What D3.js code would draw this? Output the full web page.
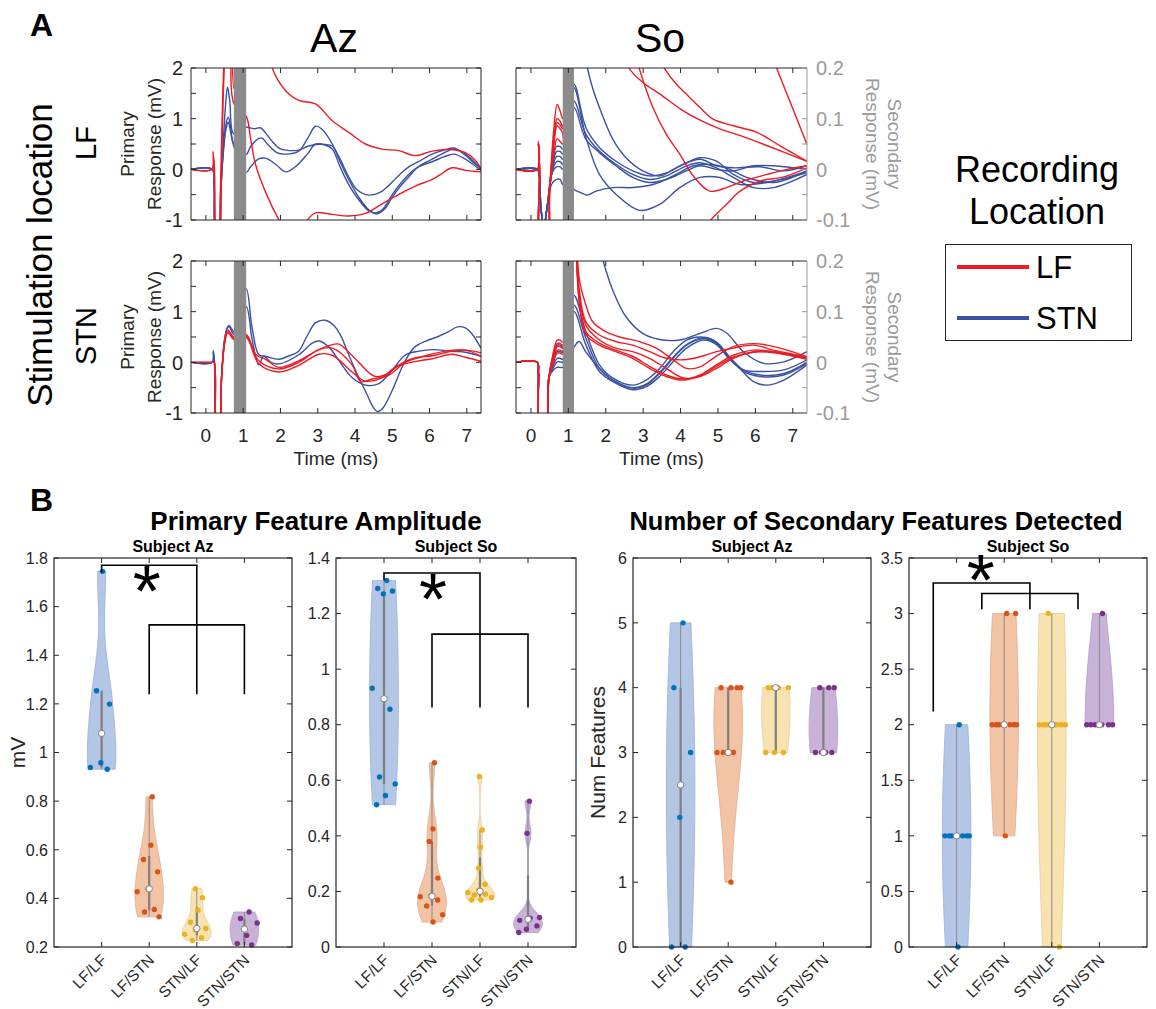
<!DOCTYPE html>
<html><head><meta charset="utf-8">
<script src="https://cdn.jsdelivr.net/npm/d3@7"></script>
<style>body{margin:0;background:#fff}svg{font-family:"Liberation Sans",Arial,Helvetica,sans-serif}</style>
</head><body>
<svg id="chart" width="1156" height="1009"></svg>
<script>
// ================= DATA =================
const timeDomain = [-0.4, 7.38];
const timeTicks = [0,1,2,3,4,5,6,7];
const primaryDomain = [-1, 2];
const primaryTicks = [-1,-0.5,0,0.5,1,1.5,2];
const primaryLabels = [-1,0,1,2];
const secondaryDomain = [-0.1, 0.2];
const secondaryTicks = [-0.1,-0.05,0,0.05,0.1,0.15,0.2];
const secondaryLabels = [-0.1,0,0.1,0.2];
const blankAz = [0.75, 1.08];
const blankSo = [0.85, 1.15];
const subjects = ["Az","So"];
const stimLocations = ["LF","STN"];
const legendLabels = ["LF","STN"];

// Az, stimulation LF (primary scale, mV)
const azLF_blue = [
 [[-0.4,0],[0.17,0],[0.22,-0.3],[0.27,-1.3],[0.34,-1.4],[0.4,-0.5],[0.47,0.6],[0.53,1.3],[0.58,1.62],[0.64,1.35],[0.75,0.7],
  [1.08,0.83],[1.3,0.8],[1.46,0.82],[1.6,0.72],[1.78,0.55],[1.96,0.42],[2.14,0.38],[2.49,0.38],[2.72,0.45],[2.94,0.49],[3.2,0.49],[3.39,0.46],[3.6,0.2],[3.83,-0.15],[4.05,-0.4],[4.28,-0.5],[4.5,-0.5],[4.73,-0.43],[5.0,-0.25],[5.2,-0.1],[5.44,0.05],[5.7,0.15],[6.07,0.3],[6.4,0.38],[6.65,0.42],[6.96,0.28],[7.2,0.12],[7.38,0.02]],
 [[-0.4,0],[0.17,0],[0.22,-0.3],[0.27,-1.3],[0.34,-1.3],[0.4,-0.4],[0.47,0.4],[0.54,0.9],[0.6,1.03],[0.66,0.85],[0.75,0.5],
  [1.08,0.3],[1.2,0.45],[1.4,0.6],[1.5,0.62],[1.65,0.5],[1.9,0.33],[2.14,0.3],[2.49,0.36],[2.72,0.6],[2.94,0.85],[3.1,0.8],[3.39,0.5],[3.6,0.15],[3.83,-0.2],[4.1,-0.55],[4.37,-0.8],[4.6,-0.88],[4.8,-0.78],[5.0,-0.55],[5.2,-0.35],[5.44,-0.15],[5.7,0.05],[6.07,0.2],[6.4,0.33],[6.65,0.4],[6.96,0.3],[7.2,0.15],[7.38,0.0]],
 [[-0.4,0],[0.17,0],[0.22,-0.3],[0.27,-1.3],[0.34,-1.3],[0.4,-0.4],[0.47,0.35],[0.54,0.8],[0.6,0.93],[0.66,0.75],[0.75,0.45],
  [1.08,-0.06],[1.2,0.05],[1.4,0.2],[1.6,0.22],[1.9,0.08],[2.14,-0.05],[2.4,0.05],[2.72,0.3],[2.94,0.5],[3.2,0.48],[3.39,0.4],[3.6,0.05],[3.83,-0.3],[4.1,-0.6],[4.37,-0.82],[4.55,-0.86],[4.73,-0.8],[5.0,-0.5],[5.2,-0.3],[5.44,-0.1],[5.7,0.05],[6.07,0.15],[6.4,0.25],[6.65,0.3],[6.96,0.2],[7.2,0.08],[7.38,-0.02]]
];
const azLF_red = [
 [[-0.4,0],[0.16,0],[0.19,0.35],[0.22,0.05],[0.26,-1.6],[0.33,-1.9],[0.39,-0.4],[0.45,1.4],[0.52,2.6],[0.6,3.0],[0.68,2.6],[0.75,1.6],
  [1.08,4.6],[1.4,3.4],[1.78,2.0],[2.14,1.55],[2.49,1.36],[2.94,1.29],[3.39,0.96],[3.83,0.73],[4.28,0.5],[4.73,0.4],[5.17,0.37],[5.62,0.27],[6.07,0.36],[6.51,0.39],[6.96,0.33],[7.2,0.2],[7.38,0.02]],
 [[-0.4,0],[0.16,0],[0.2,0.25],[0.23,0],[0.27,-1.5],[0.35,-1.7],[0.42,0.1],[0.5,2.1],[0.58,2.7],[0.66,2.2],[0.75,1.3],
  [1.08,1.05],[1.2,0.6],[1.33,0.1],[1.6,-0.45],[1.96,-1.0],[2.3,-1.4],[2.72,-1.0],[2.94,-0.86],[3.39,-0.89],[3.83,-0.92],[4.28,-0.87],[4.73,-0.68],[5.17,-0.5],[5.62,-0.33],[6.07,-0.2],[6.3,-0.1],[6.6,0.03],[6.96,-0.02],[7.38,-0.05]]
];
// Az, stimulation STN
const azSTN_blue = [
 [[-0.4,0],[0.17,0],[0.2,0.23],[0.23,0],[0.28,-1.3],[0.36,-1.4],[0.42,-0.3],[0.5,0.45],[0.58,0.7],[0.63,0.73],[0.75,0.6],
  [1.08,1.45],[1.24,0.68],[1.42,0.15],[1.6,0.12],[1.96,0.06],[2.2,0.12],[2.49,0.22],[2.7,0.5],[2.94,0.78],[3.2,0.83],[3.4,0.75],[3.6,0.55],[3.83,0.15],[4.1,-0.3],[4.3,-0.6],[4.5,-0.9],[4.6,-0.97],[4.75,-0.9],[5.0,-0.55],[5.2,-0.2],[5.36,0.05],[5.6,0.3],[5.9,0.42],[6.2,0.5],[6.5,0.6],[6.75,0.7],[6.96,0.68],[7.15,0.55],[7.38,0.28]],
 [[-0.4,0],[0.17,0],[0.2,0.2],[0.23,0],[0.28,-1.3],[0.36,-1.4],[0.42,-0.3],[0.5,0.45],[0.58,0.68],[0.63,0.7],[0.75,0.55],
  [1.08,1.1],[1.24,0.45],[1.42,-0.05],[1.55,0.12],[1.75,0.0],[1.96,-0.03],[2.49,0.15],[2.85,0.38],[3.03,0.42],[3.3,0.3],[3.6,0.0],[3.92,-0.3],[4.28,-0.45],[4.64,-0.42],[5.0,-0.15],[5.36,0.15],[5.72,0.22],[6.07,0.25],[6.6,0.22],[6.96,0.2],[7.38,0.12]]
];
const azSTN_red = [
 [[-0.4,0],[0.17,0],[0.22,0],[0.28,-1.3],[0.36,-1.4],[0.42,-0.3],[0.5,0.4],[0.58,0.64],[0.64,0.6],[0.75,0.5],
  [1.08,0.55],[1.33,0.16],[1.6,0.06],[1.96,-0.1],[2.49,0.03],[3.03,0.25],[3.3,0.33],[3.57,0.36],[3.83,0.2],[4.1,0.0],[4.4,-0.22],[4.55,-0.28],[4.8,-0.25],[5.0,-0.14],[5.35,0.02],[5.7,0.1],[6.07,0.13],[6.6,0.22],[6.96,0.24],[7.38,0.12]],
 [[-0.4,0],[0.17,0],[0.22,0],[0.28,-1.3],[0.36,-1.4],[0.42,-0.3],[0.5,0.38],[0.58,0.6],[0.64,0.58],[0.75,0.47],
  [1.08,0.49],[1.42,-0.03],[1.96,-0.19],[2.49,-0.06],[3.03,0.16],[3.39,0.14],[3.92,-0.19],[4.28,-0.37],[4.73,-0.3],[5.17,-0.07],[5.72,0.03],[6.07,0.07],[6.6,0.16],[6.96,0.1],[7.38,0.02]],
 [[-0.4,0],[0.17,0],[0.22,0],[0.28,-1.3],[0.36,-1.4],[0.42,-0.3],[0.5,0.36],[0.58,0.58],[0.64,0.55],[0.75,0.45],
  [1.08,0.52],[1.42,0.03],[1.96,-0.13],[2.49,0.0],[3.03,0.25],[3.39,0.28],[3.92,-0.05],[4.15,-0.38],[4.46,-0.33],[4.91,-0.25],[5.35,0.0],[5.89,0.13],[6.6,0.24],[6.96,0.24],[7.38,0.19]]
];
// So, stimulation LF (secondary scale, mV)
const soLF_blue = [
 [[-0.4,0],[0.17,0],[0.22,-0.01],[0.27,-0.08],[0.35,-0.11],[0.44,-0.07],[0.55,-0.01],[0.68,0.045],[0.78,0.045],[0.85,0.04],
  [1.15,0.42],[1.3,0.3],[1.51,0.2],[1.65,0.16],[1.83,0.122],[2.19,0.059],[2.54,0.023],[2.99,-0.003],[3.44,-0.013],[3.98,0.007],[4.52,0.02],[4.96,0.007],[5.41,0.003],[6.13,0.005],[6.76,-0.003],[7.38,0.007]],
 [[-0.4,0],[0.17,0],[0.22,-0.01],[0.27,-0.08],[0.35,-0.11],[0.44,-0.07],[0.55,-0.01],[0.68,0.035],[0.78,0.035],[0.85,0.03],
  [1.15,0.168],[1.47,0.082],[1.83,0.043],[2.27,0.016],[2.72,-0.003],[3.17,-0.013],[3.62,-0.007],[4.16,0.013],[4.52,0.023],[4.96,0.016],[5.41,-0.01],[5.95,-0.026],[6.49,-0.023],[7.38,-0.003]],
 [[-0.4,0],[0.17,0],[0.22,-0.01],[0.27,-0.08],[0.35,-0.11],[0.44,-0.07],[0.55,-0.01],[0.68,0.025],[0.78,0.025],[0.85,0.02],
  [1.15,0.135],[1.47,0.069],[1.83,0.036],[2.27,0.01],[2.72,-0.01],[3.17,-0.02],[3.62,-0.013],[4.16,0.007],[4.52,0.013],[4.96,0.003],[5.41,-0.016],[5.95,-0.036],[6.49,-0.036],[7.38,-0.01]],
 [[-0.4,0],[0.17,0],[0.22,-0.01],[0.27,-0.08],[0.35,-0.11],[0.44,-0.07],[0.55,-0.01],[0.68,0.015],[0.78,0.015],[0.85,0.01],
  [1.15,0.122],[1.47,0.059],[1.83,0.033],[2.27,0.007],[2.72,-0.016],[3.17,-0.026],[3.62,-0.02],[4.16,-0.003],[4.52,0.007],[4.96,0.0],[5.41,-0.003],[5.95,0.007],[6.49,0.007],[7.38,0.0]],
 [[-0.4,0],[0.17,0],[0.22,-0.01],[0.27,-0.08],[0.35,-0.11],[0.44,-0.07],[0.55,-0.01],[0.68,0.005],[0.78,0.005],[0.85,0.0],
  [1.15,0.161],[1.47,0.063],[1.83,-0.01],[2.27,-0.049],[2.9,-0.081],[3.44,-0.069],[3.98,-0.036],[4.52,-0.016],[5.05,-0.016],[5.59,-0.03],[6.31,-0.026],[7.38,-0.007]],
 [[-0.4,0],[0.17,0],[0.22,-0.01],[0.27,-0.08],[0.35,-0.11],[0.44,-0.07],[0.55,-0.03],[0.68,-0.02],[0.78,-0.02],[0.85,-0.03],
  [1.15,-0.04],[1.3,-0.045],[1.51,-0.051],[1.74,-0.043],[2.19,-0.036],[2.72,-0.036],[3.26,-0.03],[3.8,-0.013],[4.34,0.007],[4.7,0.01],[5.23,0.003],[5.77,-0.016],[6.49,-0.026],[7.38,-0.003]]
];
const soLF_red = [
 [[-0.4,0],[0.17,0],[0.2,0.055],[0.23,0],[0.27,-0.15],[0.42,-0.15],[0.5,-0.04],[0.6,0.07],[0.7,0.128],[0.78,0.115],[0.85,0.1],
  [1.15,0.6],[1.8,0.4],[2.3,0.27],[2.62,0.2],[3.0,0.171],[3.46,0.148],[4.0,0.119],[4.55,0.096],[5.08,0.079],[5.62,0.066],[6.34,0.046],[7.38,0.016]],
 [[-0.4,0],[0.17,0],[0.2,0.05],[0.23,0],[0.27,-0.15],[0.42,-0.15],[0.5,-0.04],[0.6,0.05],[0.7,0.1],[0.78,0.095],[0.85,0.085],
  [1.15,0.9],[2.5,0.35],[3.2,0.25],[3.58,0.198],[3.89,0.168],[4.16,0.148],[4.52,0.122],[4.87,0.099],[5.41,0.086],[6.04,0.073],[6.67,0.046],[7.38,0.016]],
 [[-0.4,0],[0.17,0],[0.2,0.05],[0.23,0],[0.27,-0.15],[0.42,-0.15],[0.5,-0.04],[0.6,0.045],[0.7,0.092],[0.78,0.088],[0.85,0.08],
  [1.15,1.0],[2.0,0.5],[2.6,0.28],[2.9,0.198],[3.26,0.122],[3.62,0.069],[3.98,0.03],[4.34,-0.013],[4.78,-0.043],[5.23,-0.036],[5.68,-0.023],[6.31,-0.01],[6.85,0.0],[7.38,0.007]],
 [[-0.4,0],[0.17,0],[0.2,0.05],[0.23,0],[0.27,-0.15],[0.42,-0.15],[0.5,-0.04],[0.6,0.04],[0.7,0.086],[0.78,0.08],[0.85,0.07],
  [1.15,-0.8],[3.0,-0.35],[4.3,-0.15],[4.78,-0.102],[5.23,-0.069],[5.59,-0.043],[6.13,-0.023],[6.76,-0.015],[7.38,0.003]],
 [[-0.4,0],[0.17,0],[0.2,0.05],[0.23,0],[0.27,-0.15],[0.42,-0.15],[0.5,-0.04],[0.6,0.025],[0.7,0.06],[0.78,0.055],[0.85,0.05],
  [1.15,2.0],[4.0,0.8],[6.0,0.32],[6.58,0.198],[7.0,0.12],[7.38,0.049]]
];
// So, stimulation STN
const soSTN_blue = [
 [[-0.4,0],[0.17,0],[0.2,-0.02],[0.25,-0.15],[0.38,-0.15],[0.48,-0.03],[0.6,0.015],[0.7,0.034],[0.78,0.034],[0.85,0.03],
  [1.15,0.5],[1.6,0.3],[1.93,0.2],[2.2,0.14],[2.54,0.09],[2.99,0.057],[3.44,0.045],[3.98,0.044],[4.52,0.057],[4.96,0.067],[5.23,0.058],[5.68,0.021],[6.22,-0.002],[6.76,0.001],[7.38,0.021]],
 [[-0.4,0],[0.17,0],[0.2,-0.02],[0.25,-0.15],[0.38,-0.15],[0.48,-0.03],[0.6,0.005],[0.7,0.021],[0.78,0.021],[0.85,0.02],
  [1.15,0.132],[1.47,0.06],[1.83,-0.005],[2.19,-0.031],[2.72,-0.045],[3.08,-0.035],[3.44,-0.012],[3.8,0.021],[4.16,0.044],[4.52,0.05],[4.87,0.044],[5.23,0.014],[5.59,-0.012],[5.95,-0.038],[6.31,-0.045],[6.76,-0.035],[7.38,-0.005]],
 [[-0.4,0],[0.17,0],[0.2,-0.02],[0.25,-0.15],[0.38,-0.15],[0.48,-0.03],[0.6,-0.005],[0.7,0.008],[0.78,0.008],[0.85,0.006],
  [1.15,0.113],[1.47,0.047],[1.83,-0.012],[2.19,-0.035],[2.72,-0.051],[3.08,-0.045],[3.44,-0.022],[3.8,0.008],[4.16,0.034],[4.61,0.047],[4.96,0.037],[5.32,0.008],[5.68,-0.018],[6.13,-0.028],[6.76,-0.025],[7.38,-0.002]],
 [[-0.4,0],[0.17,0],[0.2,-0.02],[0.25,-0.15],[0.38,-0.15],[0.48,-0.03],[0.6,-0.01],[0.7,0.001],[0.78,0.001],[0.85,0.0],
  [1.15,0.1],[1.47,0.034],[1.83,-0.018],[2.19,-0.038],[2.72,-0.054],[3.08,-0.048],[3.44,-0.028],[3.8,0.001],[4.16,0.028],[4.61,0.044],[4.96,0.035],[5.32,0.005],[5.68,-0.015],[6.13,-0.018],[6.76,-0.015],[7.38,0.005]],
 [[-0.4,0],[0.17,0],[0.2,-0.02],[0.25,-0.15],[0.38,-0.15],[0.48,-0.03],[0.6,-0.015],[0.7,-0.01],[0.78,-0.01],[0.85,-0.01],
  [1.15,0.03],[1.29,0.041],[1.47,0.02],[1.83,-0.012],[2.19,-0.035],[2.72,-0.05],[3.08,-0.043],[3.44,-0.02],[3.8,0.01],[4.16,0.035],[4.61,0.048],[4.96,0.04],[5.32,0.01],[5.68,-0.015],[6.13,-0.025],[6.76,-0.022],[7.38,0.0]]
];
const soSTN_red = [
 [[-0.4,0],[0.17,0],[0.2,-0.02],[0.25,-0.15],[0.38,-0.15],[0.48,-0.03],[0.6,0.02],[0.7,0.044],[0.78,0.044],[0.85,0.04],
  [1.15,0.35],[1.29,0.165],[1.47,0.113],[1.65,0.08],[2.01,0.06],[2.37,0.05],[2.9,0.041],[3.35,0.028],[3.8,0.005],[4.16,-0.012],[4.52,-0.009],[4.87,0.008],[5.41,0.031],[5.95,0.037],[6.31,0.034],[6.85,0.024],[7.38,0.011]],
 [[-0.4,0],[0.17,0],[0.2,-0.02],[0.25,-0.15],[0.38,-0.15],[0.48,-0.03],[0.6,0.015],[0.7,0.037],[0.78,0.037],[0.85,0.034],
  [1.15,0.3],[1.29,0.145],[1.47,0.08],[1.83,0.054],[2.27,0.041],[2.72,0.034],[3.17,0.021],[3.62,0.008],[4.07,0.005],[4.52,0.011],[4.96,0.021],[5.41,0.028],[5.95,0.034],[6.49,0.024],[7.38,0.011]],
 [[-0.4,0],[0.17,0],[0.2,-0.02],[0.25,-0.15],[0.38,-0.15],[0.48,-0.03],[0.6,0.01],[0.7,0.031],[0.78,0.031],[0.85,0.028],
  [1.15,0.28],[1.29,0.132],[1.47,0.073],[1.83,0.044],[2.27,0.028],[2.72,0.021],[3.17,0.008],[3.62,-0.012],[4.07,-0.031],[4.52,-0.028],[4.96,-0.012],[5.41,0.008],[5.95,0.021],[6.49,0.021],[7.03,0.014],[7.38,0.008]],
 [[-0.4,0],[0.17,0],[0.2,-0.02],[0.25,-0.15],[0.38,-0.15],[0.48,-0.03],[0.6,0.005],[0.7,0.024],[0.78,0.024],[0.85,0.022],
  [1.15,0.26],[1.29,0.119],[1.47,0.054],[1.83,0.034],[2.27,0.021],[2.72,0.008],[3.17,-0.012],[3.62,-0.028],[4.07,-0.035],[4.52,-0.025],[4.96,-0.005],[5.41,0.014],[5.95,0.024],[6.49,0.021],[7.38,0.008]],
 [[-0.4,0],[0.17,0],[0.2,-0.02],[0.25,-0.15],[0.38,-0.15],[0.48,-0.03],[0.6,0.0],[0.7,0.018],[0.78,0.018],[0.85,0.016],
  [1.15,0.27],[1.29,0.125],[1.47,0.06],[1.83,0.038],[2.27,0.024],[2.72,0.012],[3.17,-0.008],[3.62,-0.025],[4.07,-0.033],[4.52,-0.027],[4.96,-0.008],[5.41,0.01],[5.95,0.02],[6.49,0.019],[7.38,0.006]]
];

// Panel B
const categories = ["LF/LF","LF/STN","STN/LF","STN/STN"];
const azPrimary = [
 [1.745,1.254,1.199,0.958,0.938,0.931],
 [0.818,0.619,0.560,0.509,0.439,0.427,0.354,0.344,0.324],
 [0.440,0.403,0.351,0.302,0.276,0.270,0.252,0.238,0.227],
 [0.344,0.317,0.299,0.248,0.214,0.208]
];
const soPrimary = [
 [1.319,1.290,1.281,1.271,0.931,0.856,0.612,0.587,0.545,0.512],
 [0.663,0.425,0.380,0.248,0.184,0.181,0.169,0.148,0.116,0.090],
 [0.614,0.421,0.359,0.284,0.226,0.205,0.196,0.190,0.187,0.178,0.169,0.169],
 [0.525,0.409,0.106,0.104,0.096,0.076,0.064,0.052]
];
const azSecondary = [
 [5,4,3,2,0,0],
 [4,4,4,4,3,3,3,3,1],
 [4,4,4,4,3,3,3],
 [4,4,4,3,3,3,3]
];
const soSecondary = [
 [2,1,1,1,1,1,1,1,0],
 [3,3,2,2,2,2,2,2,2,1],
 [3,2,2,2,2,2,2,2,2,0],
 [3,2,2,2,2,2,2,2]
];
const azPrimaryTicks = [0.2,0.4,0.6,0.8,1,1.2,1.4,1.6,1.8];
const soPrimaryTicks = [0,0.2,0.4,0.6,0.8,1,1.2,1.4];
const azSecondaryTicks = [0,1,2,3,4,5,6];
const soSecondaryTicks = [0,0.5,1,1.5,2,2.5,3,3.5];
// significance brackets (category position, value)
const azPrimaryBrackets = [[[1,1.74],[1,1.77],[3,1.77],[3,1.24]], [[2,1.24],[2,1.525],[4,1.525],[4,1.24]]];
const azPrimaryStar = [1.95,1.70];
const soPrimaryBrackets = [[[1,1.32],[1,1.346],[3,1.346],[3,0.862]], [[2,0.862],[2,1.126],[4,1.126],[4,0.862]]];
const soPrimaryStar = [2.02,1.284];
const soSecondaryBrackets = [[[0.51,2.12],[0.51,3.275],[2.54,3.275],[2.54,3.04]], [[1.53,3.04],[1.53,3.18],[3.55,3.18],[3.55,3.04]]];
const soSecondaryStar = [1.51,3.38];

// ================= STYLE =================
const RED = "#ec1c24", BLUE = "#3a51a3", AX = "#262626", GRAYTXT = "#9a9a9a";
const PT = ["#0072bd","#d95319","#edb120","#7e2f8e"];
const FILL = ["#b3c6e6","#f3c3a6","#f8e2b0","#c9b2d7"];
const EDGE = ["#9cb0d6","#e0ab8e","#e6cd98","#b39bc4"];

const svg = d3.select("#chart");
function text(g, x, y, s, o = {}) {
  const t = g.append("text").attr("x", x).attr("y", y).text(s)
    .attr("font-size", o.size || 16).attr("fill", o.fill || AX)
    .attr("text-anchor", o.anchor || "start");
  if (o.weight) t.attr("font-weight", o.weight);
  if (o.transform) t.attr("transform", o.transform);
  if (o.dy) t.attr("dy", o.dy);
  return t;
}

// ================= PANEL A =================
let clipN = 0;
function tracePanel(p) {
  const x = d3.scaleLinear().domain(timeDomain).range([p.x0, p.x1]);
  const yP = d3.scaleLinear().domain(primaryDomain).range([p.y1, p.y0]);
  const yS = d3.scaleLinear().domain(secondaryDomain).range([p.y1, p.y0]);
  const y = p.secondary ? yS : yP;
  const id = "clipA" + (clipN++);
  svg.append("clipPath").attr("id", id).append("rect")
    .attr("x", p.x0).attr("y", p.y0).attr("width", p.x1 - p.x0).attr("height", p.y1 - p.y0);
  const g = svg.append("g").attr("clip-path", `url(#${id})`);
  const line = d3.line().x(d => x(d[0])).y(d => y(d[1])).curve(d3.curveCatmullRom.alpha(0.5));
  g.selectAll(null).data(p.blue).join("path").attr("d", line)
    .attr("fill", "none").attr("stroke", BLUE).attr("stroke-width", 1.4);
  g.selectAll(null).data(p.red).join("path").attr("d", line)
    .attr("fill", "none").attr("stroke", RED).attr("stroke-width", 1.4);
  g.append("rect").attr("x", x(p.blank[0])).attr("width", x(p.blank[1]) - x(p.blank[0]))
    .attr("y", p.y0).attr("height", p.y1 - p.y0).attr("fill", "#8b8b8b");
  const f = svg.append("g");
  const rightCol = p.secondary ? "#9a9a9a" : AX;
  f.append("line").attr("x1", p.x0).attr("x2", p.x1).attr("y1", p.y0).attr("y2", p.y0).attr("stroke", AX);
  f.append("line").attr("x1", p.x0).attr("x2", p.x1).attr("y1", p.y1).attr("y2", p.y1).attr("stroke", AX);
  f.append("line").attr("x1", p.x0).attr("x2", p.x0).attr("y1", p.y0).attr("y2", p.y1).attr("stroke", AX);
  f.append("line").attr("x1", p.x1).attr("x2", p.x1).attr("y1", p.y0).attr("y2", p.y1).attr("stroke", rightCol);
  timeTicks.forEach(t => {
    f.append("line").attr("x1", x(t)).attr("x2", x(t)).attr("y1", p.y1).attr("y2", p.y1 - 5).attr("stroke", AX);
    f.append("line").attr("x1", x(t)).attr("x2", x(t)).attr("y1", p.y0).attr("y2", p.y0 + 5).attr("stroke", AX);
    if (p.xlabels) text(f, x(t), p.y1 + 29, String(t), {size: 19, anchor: "middle"});
  });
  primaryTicks.forEach(v => {
    f.append("line").attr("x1", p.x0).attr("x2", p.x0 + 5).attr("y1", yP(v)).attr("y2", yP(v)).attr("stroke", AX);
    if (!p.secondary) f.append("line").attr("x1", p.x1).attr("x2", p.x1 - 5).attr("y1", yP(v)).attr("y2", yP(v)).attr("stroke", AX);
  });
  if (p.secondary) {
    secondaryTicks.forEach(v => f.append("line").attr("x1", p.x1).attr("x2", p.x1 - 5)
      .attr("y1", yS(v)).attr("y2", yS(v)).attr("stroke", rightCol));
    secondaryLabels.forEach(v => text(f, p.x1 + 9, yS(v), String(v), {size: 20, fill: GRAYTXT, dy: "0.36em"}));
    const cy = (p.y0 + p.y1) / 2;
    text(f, 0, 0, "Secondary", {size: 19, fill: GRAYTXT, anchor: "middle", dy: "0.35em",
      transform: `translate(${p.x1 + 88},${cy}) rotate(90)`});
    text(f, 0, 0, "Response (mV)", {size: 19, fill: GRAYTXT, anchor: "middle", dy: "0.35em",
      transform: `translate(${p.x1 + 66},${cy}) rotate(90)`});
  } else {
    primaryLabels.forEach(v => text(f, p.x0 - 8, yP(v), String(v), {size: 20, anchor: "end", dy: "0.36em"}));
    const cy = (p.y0 + p.y1) / 2;
    text(f, 0, 0, "Primary", {size: 19, anchor: "middle", dy: "0.35em",
      transform: `translate(${p.x0 - 64},${cy}) rotate(-90)`});
    text(f, 0, 0, "Response (mV)", {size: 19, anchor: "middle", dy: "0.35em",
      transform: `translate(${p.x0 - 37},${cy}) rotate(-90)`});
  }
  if (p.xlabels) text(f, (p.x0 + p.x1) / 2, p.y1 + 52, "Time (ms)", {size: 19, anchor: "middle"});
}

tracePanel({x0: 191, x1: 481, y0: 68, y1: 220, blue: azLF_blue, red: azLF_red, blank: blankAz, secondary: false, xlabels: false});
tracePanel({x0: 516, x1: 807, y0: 68, y1: 220, blue: soLF_blue, red: soLF_red, blank: blankSo, secondary: true, xlabels: false});
tracePanel({x0: 191, x1: 481, y0: 261, y1: 413, blue: azSTN_blue, red: azSTN_red, blank: blankAz, secondary: false, xlabels: true});
tracePanel({x0: 516, x1: 807, y0: 261, y1: 413, blue: soSTN_blue, red: soSTN_red, blank: blankSo, secondary: true, xlabels: true});

const ga = svg.append("g");
text(ga, 30, 36, "A", {size: 32, weight: "bold", fill: "#000"});
text(ga, 334, 52, subjects[0], {size: 41, anchor: "middle", fill: "#000"});
text(ga, 660, 52, subjects[1], {size: 41, anchor: "middle", fill: "#000"});
text(ga, 0, 0, "Stimulation location", {size: 35, anchor: "middle", dy: "0.35em", fill: "#000", transform: "translate(40,255) rotate(-90)"});
text(ga, 0, 0, stimLocations[0], {size: 29, anchor: "middle", dy: "0.35em", fill: "#000", transform: "translate(86,143) rotate(-90)"});
text(ga, 0, 0, stimLocations[1], {size: 29, anchor: "middle", dy: "0.35em", fill: "#000", transform: "translate(86,336) rotate(-90)"});
// legend
text(ga, 1037, 182, "Recording", {size: 36, anchor: "middle", fill: "#000"});
text(ga, 1037, 224, "Location", {size: 36, anchor: "middle", fill: "#000"});
ga.append("rect").attr("x", 945.5).attr("y", 244.5).attr("width", 186).attr("height", 96).attr("fill", "none").attr("stroke", AX);
[RED, BLUE].forEach((c, i) => {
  const yy = 267 + i * 51;
  ga.append("line").attr("x1", 957).attr("x2", 1029).attr("y1", yy).attr("y2", yy).attr("stroke", c).attr("stroke-width", 4);
  text(ga, 1036, yy, legendLabels[i], {size: 31, fill: "#000", dy: "0.36em"});
});

// ================= PANEL B =================
function mquantile(s, p) {
  const n = s.length, pos = p * n + 0.5;
  if (pos <= 1) return s[0];
  if (pos >= n) return s[n - 1];
  const i = Math.floor(pos);
  return s[i - 1] + (pos - i) * (s[i] - s[i - 1]);
}
function violinPanel(p) {
  const xs = d3.scaleLinear().domain([0, 5]).range([p.x0, p.x1]);
  const ys = d3.scaleLinear().domain(p.domain).range([p.y1, p.y0]);
  const g = svg.append("g");
  p.groups.forEach((data, i) => {
    const pos = i + 1, n = data.length;
    const s = data.slice().sort(d3.ascending);
    const med = d3.median(s);
    let sig = d3.median(s.map(v => Math.abs(v - med))) / 0.6745;
    if (!(sig > 0)) sig = s[n - 1] - s[0];
    const bw = sig > 0 ? sig * Math.pow(4 / (3 * n), 0.2) : 1;
    const dens = v => d3.sum(s, d => Math.exp(-0.5 * ((v - d) / bw) ** 2));
    const grid = d3.range(101).map(k => s[0] + (s[n - 1] - s[0]) * k / 100);
    const maxd = d3.max(grid, dens);
    const hw = v => 0.3 * dens(v) / maxd;
    const area = d3.area().y(v => ys(v)).x0(v => xs(pos - hw(v))).x1(v => xs(pos + hw(v)));
    g.append("path").attr("d", area(grid)).attr("fill", FILL[i]).attr("stroke", EDGE[i]).attr("stroke-width", 0.8);
    const q1 = mquantile(s, 0.25), q3 = mquantile(s, 0.75), iqr = q3 - q1;
    let lo = q1 - 1.5 * iqr; const above = s.filter(v => v > lo); if (above.length) lo = Math.max(lo, d3.min(above));
    let hi = q3 + 1.5 * iqr; const below = s.filter(v => v < hi); if (below.length) hi = Math.min(hi, d3.max(below));
    g.append("line").attr("x1", xs(pos)).attr("x2", xs(pos)).attr("y1", ys(lo)).attr("y2", ys(hi))
      .attr("stroke", "#8a8a8a").attr("stroke-width", 1);
    g.append("line").attr("x1", xs(pos)).attr("x2", xs(pos)).attr("y1", ys(q1)).attr("y2", ys(q3))
      .attr("stroke", "#7f7f7f").attr("stroke-width", 2.2);
    data.forEach((v, j) => {
      const jit = 2 * (((j + 1) * 0.618034 + i * 0.37) % 1) - 1;
      g.append("circle").attr("cx", xs(pos + jit * hw(v))).attr("cy", ys(v)).attr("r", 2.7).attr("fill", PT[i]);
    });
    g.append("circle").attr("cx", xs(pos)).attr("cy", ys(med)).attr("r", 3.2)
      .attr("fill", "#fff").attr("stroke", "#808080").attr("stroke-width", 1);
  });
  // frame
  g.append("rect").attr("x", p.x0).attr("y", p.y0).attr("width", p.x1 - p.x0).attr("height", p.y1 - p.y0)
    .attr("fill", "none").attr("stroke", AX).attr("stroke-width", 1.2);
  p.ticks.forEach(v => {
    g.append("line").attr("x1", p.x0).attr("x2", p.x0 + 5).attr("y1", ys(v)).attr("y2", ys(v)).attr("stroke", AX);
    g.append("line").attr("x1", p.x1).attr("x2", p.x1 - 5).attr("y1", ys(v)).attr("y2", ys(v)).attr("stroke", AX);
    text(g, p.x0 - 6, ys(v), String(+v.toFixed(2)), {size: 16, anchor: "end", dy: "0.36em"});
  });
  categories.forEach((c, i) => {
    const xx = xs(i + 1);
    g.append("line").attr("x1", xx).attr("x2", xx).attr("y1", p.y1).attr("y2", p.y1 - 5).attr("stroke", AX);
    g.append("line").attr("x1", xx).attr("x2", xx).attr("y1", p.y0).attr("y2", p.y0 + 5).attr("stroke", AX);
    text(g, 0, 0, c, {size: 15.5, anchor: "end", transform: `translate(${xx + 6},${p.y1 + 14}) rotate(-45)`});
  });
  text(g, (p.x0 + p.x1) / 2, p.y0 - 6, p.title, {size: 16, weight: "bold", anchor: "middle", fill: "#000"});
  if (p.ylabel) text(g, 0, 0, p.ylabel, {size: 21, anchor: "middle", dy: "0.35em",
    transform: `translate(${p.x0 - p.ylabelOff},${(p.y0 + p.y1) / 2}) rotate(-90)`});
  const bline = d3.line().x(d => xs(d[0])).y(d => ys(d[1]));
  (p.brackets || []).forEach(b => {
    g.append("path").attr("d", bline(b))
      .attr("fill", "none").attr("stroke", "#000").attr("stroke-width", 1.6);
  });
  if (p.star) text(g, xs(p.star[0]), ys(p.star[1]) + 34, "*", {size: 72, anchor: "middle", fill: "#000"});
}

violinPanel({x0: 54, x1: 292, y0: 558, y1: 947, domain: [0.2, 1.8], ticks: azPrimaryTicks, groups: azPrimary,
  title: "Subject Az", ylabel: "mV", ylabelOff: 36, brackets: azPrimaryBrackets, star: azPrimaryStar});
violinPanel({x0: 336, x1: 576, y0: 558, y1: 947, domain: [0, 1.4], ticks: soPrimaryTicks, groups: soPrimary,
  title: "Subject So", brackets: soPrimaryBrackets, star: soPrimaryStar});
violinPanel({x0: 633, x1: 871, y0: 558, y1: 947, domain: [0, 6], ticks: azSecondaryTicks, groups: azSecondary,
  title: "Subject Az", ylabel: "Num Features", ylabelOff: 35});
violinPanel({x0: 909, x1: 1147, y0: 558, y1: 947, domain: [0, 3.5], ticks: soSecondaryTicks, groups: soSecondary,
  title: "Subject So", brackets: soSecondaryBrackets, star: soSecondaryStar});

const gb = svg.append("g");
text(gb, 30, 511, "B", {size: 32, weight: "bold", fill: "#000"});
text(gb, 316, 530, "Primary Feature Amplitude", {size: 26, weight: "bold", anchor: "middle", fill: "#000"});
text(gb, 876, 530, "Number of Secondary Features Detected", {size: 25.5, weight: "bold", anchor: "middle", fill: "#000"});
</script>
</body></html>
